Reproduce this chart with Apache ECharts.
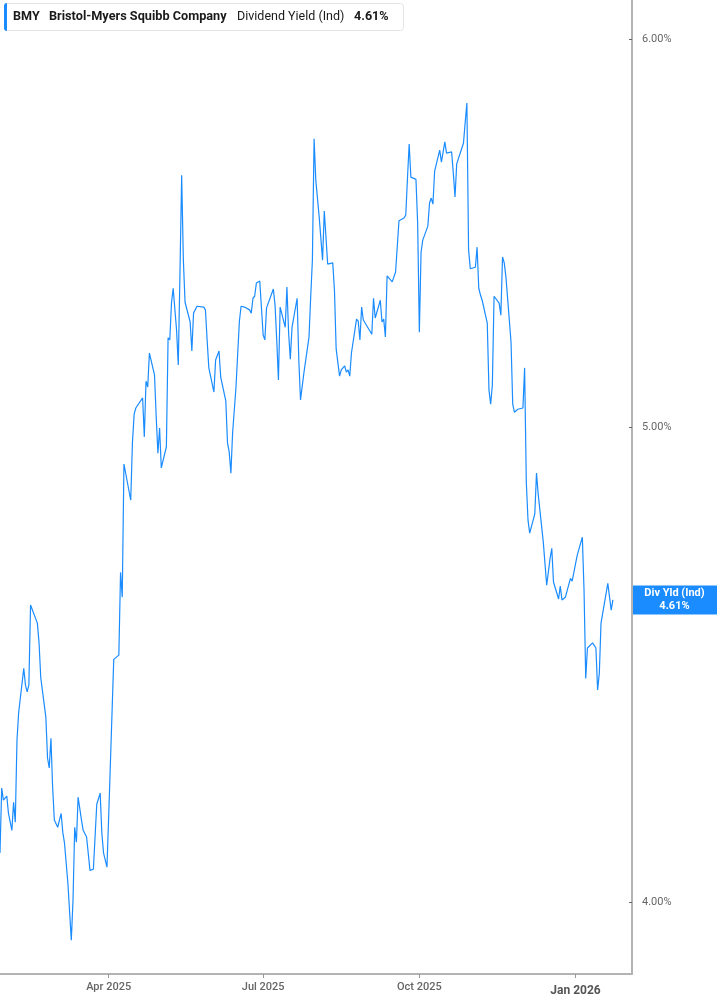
<!DOCTYPE html>
<html><head><meta charset="utf-8">
<script src="https://cdn.jsdelivr.net/npm/echarts@6/dist/echarts.min.js"></script>
<style>html,body{margin:0;padding:0;background:#fff}#c{width:717px;height:1005px}</style>
</head><body><div id="c"></div>
<script>
const dates = [
'2025-01-27','2025-01-28','2025-01-29','2025-01-31','2025-02-01','2025-02-03','2025-02-04','2025-02-05','2025-02-06','2025-02-07',
'2025-02-10','2025-02-11','2025-02-12','2025-02-13','2025-02-14','2025-02-18','2025-02-19','2025-02-20','2025-02-21','2025-02-23',
'2025-02-24','2025-02-25','2025-02-26','2025-02-27','2025-02-28','2025-03-02','2025-03-04','2025-03-05','2025-03-06','2025-03-08',
'2025-03-10','2025-03-11','2025-03-12','2025-03-13','2025-03-14','2025-03-16','2025-03-17','2025-03-18','2025-03-19','2025-03-21',
'2025-03-23','2025-03-24','2025-03-25','2025-03-26','2025-03-27','2025-03-28','2025-03-29','2025-03-31','2025-04-01','2025-04-02',
'2025-04-04','2025-04-07','2025-04-08','2025-04-09','2025-04-10','2025-04-14','2025-04-15','2025-04-16','2025-04-17','2025-04-21',
'2025-04-22','2025-04-23','2025-04-24','2025-04-25','2025-04-28','2025-04-29','2025-04-30','2025-05-01','2025-05-02','2025-05-05',
'2025-05-06','2025-05-07','2025-05-08','2025-05-09','2025-05-11','2025-05-12','2025-05-13','2025-05-14','2025-05-15','2025-05-16',
'2025-05-19','2025-05-20','2025-05-21','2025-05-22','2025-05-23','2025-05-27','2025-05-28','2025-05-29','2025-05-30','2025-06-02',
'2025-06-03','2025-06-05','2025-06-06','2025-06-09','2025-06-10','2025-06-11','2025-06-12','2025-06-13','2025-06-15','2025-06-17',
'2025-06-18','2025-06-20','2025-06-23','2025-06-24','2025-06-25','2025-06-26','2025-06-27','2025-06-29','2025-06-30','2025-07-01',
'2025-07-02','2025-07-03','2025-07-07','2025-07-08','2025-07-09','2025-07-10','2025-07-11','2025-07-14','2025-07-15','2025-07-16',
'2025-07-17','2025-07-18','2025-07-21','2025-07-22','2025-07-23','2025-07-24','2025-07-25','2025-07-28','2025-07-29','2025-07-30',
'2025-07-31','2025-08-01','2025-08-03','2025-08-05','2025-08-06','2025-08-07','2025-08-08','2025-08-11','2025-08-12','2025-08-13',
'2025-08-14','2025-08-15','2025-08-16','2025-08-18','2025-08-19','2025-08-20','2025-08-21','2025-08-22','2025-08-25','2025-08-26',
'2025-08-27','2025-08-28','2025-08-29','2025-09-03','2025-09-04','2025-09-05','2025-09-08','2025-09-09','2025-09-10','2025-09-11',
'2025-09-12','2025-09-15','2025-09-16','2025-09-17','2025-09-19','2025-09-22','2025-09-23','2025-09-24','2025-09-25','2025-09-26',
'2025-09-29','2025-09-30','2025-10-01','2025-10-02','2025-10-03','2025-10-06','2025-10-07','2025-10-08','2025-10-09','2025-10-10',
'2025-10-13','2025-10-14','2025-10-16','2025-10-17','2025-10-20','2025-10-21','2025-10-22','2025-10-23','2025-10-24','2025-10-27',
'2025-10-28','2025-10-29','2025-10-30','2025-10-31','2025-11-03','2025-11-04','2025-11-05','2025-11-06','2025-11-07','2025-11-10',
'2025-11-11','2025-11-12','2025-11-13','2025-11-14','2025-11-17','2025-11-18','2025-11-19','2025-11-20','2025-11-21','2025-11-24',
'2025-11-25','2025-11-26','2025-11-28','2025-12-01','2025-12-02','2025-12-03','2025-12-04','2025-12-05','2025-12-08','2025-12-09',
'2025-12-10','2025-12-11','2025-12-13','2025-12-15','2025-12-16','2025-12-17','2025-12-18','2025-12-19','2025-12-22','2025-12-23',
'2025-12-24','2025-12-26','2025-12-29','2025-12-30','2026-01-02','2026-01-05','2026-01-06','2026-01-07','2026-01-08','2026-01-11',
'2026-01-13','2026-01-14','2026-01-15','2026-01-16','2026-01-20','2026-01-22','2026-01-23'
];
const yields = [
4.093,4.220,4.196,4.204,4.170,4.137,4.192,4.153,4.316,4.373,
4.464,4.429,4.415,4.429,4.599,4.560,4.518,4.445,4.441,4.363,
4.280,4.260,4.320,4.222,4.157,4.143,4.170,4.133,4.112,4.035,
3.929,4.003,4.143,4.114,4.202,4.157,4.137,4.139,4.124,4.060,
4.062,4.062,4.188,4.190,4.210,4.131,4.093,4.066,4.163,4.161,
4.483,4.492,4.670,4.616,4.914,4.831,4.963,5.030,5.045,5.069,
4.977,5.109,5.095,5.177,5.124,5.025,4.939,4.998,4.905,4.954,
5.214,5.209,5.300,5.337,5.233,5.148,5.375,5.628,5.408,5.302,
5.253,5.182,5.275,5.275,5.292,5.290,5.283,5.209,5.141,5.083,
5.160,5.182,5.119,5.062,4.963,4.942,4.893,4.986,5.095,5.255,
5.292,5.290,5.283,5.275,5.312,5.317,5.350,5.355,5.358,5.221,
5.209,5.288,5.335,5.295,5.209,5.112,5.290,5.240,5.340,5.226,
5.162,5.240,5.312,5.160,5.064,5.066,5.129,5.216,5.315,5.408,
5.725,5.615,5.519,5.408,5.534,5.467,5.398,5.401,5.332,5.187,
5.184,5.121,5.136,5.146,5.131,5.136,5.121,5.177,5.260,5.255,
5.209,5.290,5.258,5.223,5.312,5.263,5.307,5.253,5.260,5.216,
5.368,5.353,5.358,5.378,5.509,5.516,5.524,5.620,5.711,5.623,
5.617,5.503,5.228,5.428,5.459,5.495,5.555,5.568,5.552,5.639,
5.695,5.663,5.717,5.687,5.690,5.634,5.571,5.658,5.660,5.714,
5.770,5.822,5.434,5.386,5.390,5.441,5.337,5.320,5.307,5.250,
5.088,5.054,5.100,5.317,5.300,5.270,5.416,5.401,5.365,5.204,
5.054,5.035,5.042,5.045,5.141,4.872,4.786,4.757,4.800,4.893,
4.845,4.843,4.737,4.642,4.646,4.701,4.723,4.649,4.612,4.640,
4.610,4.616,4.657,4.651,4.708,4.748,4.631,4.443,4.507,4.518,
4.507,4.419,4.454,4.560,4.646,4.588,4.610
];
const xTickDates = ['2025-04-01','2025-07-01','2025-10-01','2026-01-01'];
const yTickValues = [4, 5, 6];
const xRange = ['2025-01-27T00:00:00', '2026-02-03T06:00:00'];
const yRange = [3.867, 6.111];
const ticker = 'BMY';
const company = 'Bristol-Myers Squibb Company';
const metric = 'Dividend Yield (Ind)';
const tagLabel = 'Div Yld (Ind)';

const MONTHS = ['Jan','Feb','Mar','Apr','May','Jun','Jul','Aug','Sep','Oct','Nov','Dec'];
const BLUE = '#1a8cff';
const lastVal = yields[yields.length - 1].toFixed(2) + '%';
const ts = s => new Date(s.length === 10 ? s + 'T00:00:00' : s).getTime();

const chart = echarts.init(document.getElementById('c'), null, {renderer: 'canvas'});
chart.setOption({
  animation: false,
  backgroundColor: '#fff',
  grid: {left: 0, right: 85, top: 0, bottom: 31, containLabel: false, outerBoundsMode: 'none'},
  xAxis: {
    type: 'value',
    min: ts(xRange[0]), max: ts(xRange[1]),
    splitLine: {show: false},
    axisLine: {show: true, lineStyle: {color: '#b3b3b3', width: 2}},
    axisTick: {show: true, customValues: xTickDates.map(ts), length: 4, lineStyle: {color: '#999', width: 1}},
    axisLabel: {
      customValues: xTickDates.map(ts),
      color: '#666', fontSize: 11, fontWeight: 500, fontFamily: 'Roboto', margin: 8,
      formatter: function (v) {
        const d = new Date(v);
        const s = MONTHS[d.getMonth()] + ' ' + d.getFullYear();
        return d.getMonth() === 0 ? '{b|' + s + '}' : s;
      },
      rich: {b: {fontWeight: 'bold', fontSize: 12, color: '#555', fontFamily: 'Roboto', padding: [3, 0, 0, 0]}}
    }
  },
  yAxis: {
    type: 'value',
    position: 'right',
    min: Math.log(yRange[0]), max: Math.log(yRange[1]),
    splitLine: {show: false},
    axisLine: {show: true, lineStyle: {color: '#b3b3b3', width: 2}},
    axisTick: {show: true, inside: true, length: 3, customValues: yTickValues.map(Math.log), lineStyle: {color: '#666'}},
    axisLabel: {
      customValues: yTickValues.map(Math.log),
      color: '#666', fontSize: 11, fontFamily: 'Roboto', margin: 10,
      formatter: function (v) { return Math.exp(v).toFixed(2) + '%'; }
    }
  },
  series: [{
    type: 'line',
    showSymbol: false,
    data: dates.map((d, i) => [ts(d), Math.log(yields[i])]),
    lineStyle: {color: BLUE, width: 1.2},
    itemStyle: {color: BLUE}
  }]
});

const tagY = chart.convertToPixel({yAxisIndex: 0}, Math.log(yields[yields.length - 1]));
const axisX = chart.convertToPixel({xAxisIndex: 0}, ts(xRange[1]));
chart.setOption({
  graphic: [
    {type: 'rect', shape: {x: 4.5, y: 3.5, width: 399, height: 27, r: 3}, style: {fill: '#fff', stroke: '#e4e4e4', lineWidth: 1}, z: 100},
    {type: 'rect', shape: {x: 4, y: 3, width: 3, height: 28, r: [3, 0, 0, 3]}, style: {fill: BLUE}, z: 101},
    {type: 'text', style: {text: ticker, x: 13, y: 17, font: 'bold 12.6px Roboto', fill: '#1a1a1a', verticalAlign: 'middle'}, z: 101},
    {type: 'text', style: {text: company, x: 49, y: 17, font: 'bold 12.7px Roboto', fill: '#1a1a1a', verticalAlign: 'middle'}, z: 101},
    {type: 'text', style: {text: metric, x: 237, y: 17, font: '12.5px Roboto', fill: '#1a1a1a', verticalAlign: 'middle'}, z: 101},
    {type: 'text', style: {text: lastVal, x: 354, y: 17, font: 'bold 12.6px Roboto', fill: '#1a1a1a', verticalAlign: 'middle'}, z: 101},
    {type: 'rect', shape: {x: axisX + 1, y: tagY - 14.5, width: 717 - axisX - 1, height: 29}, style: {fill: BLUE}, z: 100},
    {type: 'text', style: {text: tagLabel + '\n' + lastVal, x: (axisX + 717) / 2, y: tagY, align: 'center', verticalAlign: 'middle', font: 'bold 11px Roboto', lineHeight: 13, fill: '#fff'}, z: 101}
  ]
});
</script>
</body></html>
